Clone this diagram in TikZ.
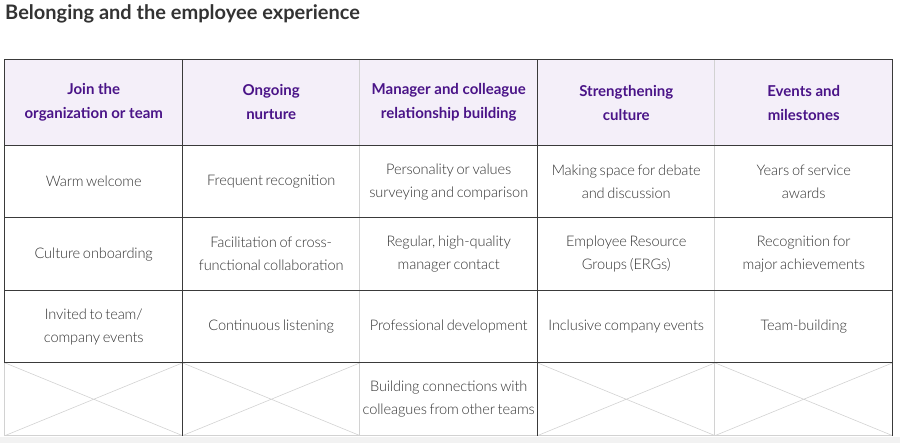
\documentclass[tikz,border=0pt]{standalone}
\usepackage{fontspec}
\setmainfont{Lato}
\newfontfamily\latolight{Lato Light}[WordSpace=0.7,LetterSpace=-0.8]
\definecolor{ink}{HTML}{333333}
\definecolor{rule}{HTML}{3A3A3A}
\definecolor{pale}{HTML}{D2D2D2}
\definecolor{headbg}{HTML}{F4EFF9}
\definecolor{headink}{HTML}{4A1488}
\definecolor{foot}{HTML}{F2F2F2}
\begin{document}
\begin{tikzpicture}[x=1pt,y=-1pt,
    cell/.style={minimum width=177.5pt,minimum height=72.5pt,inner sep=0pt,
      align=center,text=ink,font=\latolight\fontsize{14.6}{23}\selectfont},
    head/.style={cell,minimum height=86pt,fill=headbg,text=headink,
      font=\bfseries\fontsize{15}{24}\selectfont},
    dark/.style={draw=rule,line width=1pt},
    light/.style={draw=pale,line width=1pt}]
  \useasboundingbox (0,0) rectangle (900,443);
  \fill[foot] (0,437) rectangle (900,443);
  \node[anchor=base west,inner sep=0pt,text=ink,font=\bfseries\fontsize{20}{24}\selectfont]
    (title) at (5,20) {Belonging and the employee experience};
  \path
    (93.75,102.5) node[head] (h1) {Join the\\organization or team}
    (271.25,102.5) node[head] (h2) {Ongoing\\nurture}
    (448.75,102.5) node[head] (h3) {Manager and colleague\\relationship building}
    (626.25,102.5) node[head] (h4) {Strengthening\\culture}
    (803.75,102.5) node[head] (h5) {Events and\\milestones}
    (93.75,181.75) node[cell] (a1) {Warm welcome}
    (271.25,181.75) node[cell] (a2) {Frequent recognition}
    (448.75,181.75) node[cell] (a3) {Personality or values\\surveying and comparison}
    (626.25,181.75) node[cell] (a4) {Making space for debate\\and discussion}
    (803.75,181.75) node[cell] (a5) {Years of service\\awards}
    (93.75,254.25) node[cell] (b1) {Culture onboarding}
    (271.25,254.25) node[cell] (b2) {Facilitation of cross-\\functional collaboration}
    (448.75,254.25) node[cell] (b3) {Regular, high-quality\\manager contact}
    (626.25,254.25) node[cell] (b4) {Employee Resource\\Groups (ERGs)}
    (803.75,254.25) node[cell] (b5) {Recognition for\\major achievements}
    (93.75,326.75) node[cell] (c1) {Invited to team/\\company events}
    (271.25,326.75) node[cell] (c2) {Continuous listening}
    (448.75,326.75) node[cell] (c3) {Professional development}
    (626.25,326.75) node[cell] (c4) {Inclusive company events}
    (803.75,326.75) node[cell] (c5) {Team-building}
    (93.75,399.25) node[cell] (d1) {}
    (271.25,399.25) node[cell] (d2) {}
    (448.75,399.25) node[cell] (d3) {Building connections with\\colleagues from other teams}
    (626.25,399.25) node[cell] (d4) {}
    (803.75,399.25) node[cell] (d5) {};
  % crossed out cells
  \begin{scope}[draw=pale,line width=0.6pt]
    \draw (d1.north west) -- (d1.south east) (d1.south west) -- (d1.north east);
    \draw (d2.north west) -- (d2.south east) (d2.south west) -- (d2.north east);
    \draw (d4.north west) -- (d4.south east) (d4.south west) -- (d4.north east);
    \draw (d5.north west) -- (d5.south east) (d5.south west) -- (d5.north east);
  \end{scope}
  % grid
  \begin{scope}[light]
    \draw (h3.north west) -- (d3.south west);
    \draw (h5.north west) -- (d5.south west);
    \draw (d1.north west) -- (d1.south west);
    \draw (d1.south west) -- (d5.south east);
  \end{scope}
  \begin{scope}[dark]
    \draw (h1.north west) -- (h5.north east);
    \draw (a1.north west) -- (a5.north east);
    \draw (b1.north west) -- (b5.north east);
    \draw (c1.north west) -- (c5.north east);
    \draw (d1.north west) -- (d5.north east);
    \draw (h1.north west) -- (c1.south west);
    \draw (h2.north west) -- (d2.south west);
    \draw (h4.north west) -- (d4.south west);
    \draw (h5.north east) -- (d5.south east);
  \end{scope}
\end{tikzpicture}
\end{document}
